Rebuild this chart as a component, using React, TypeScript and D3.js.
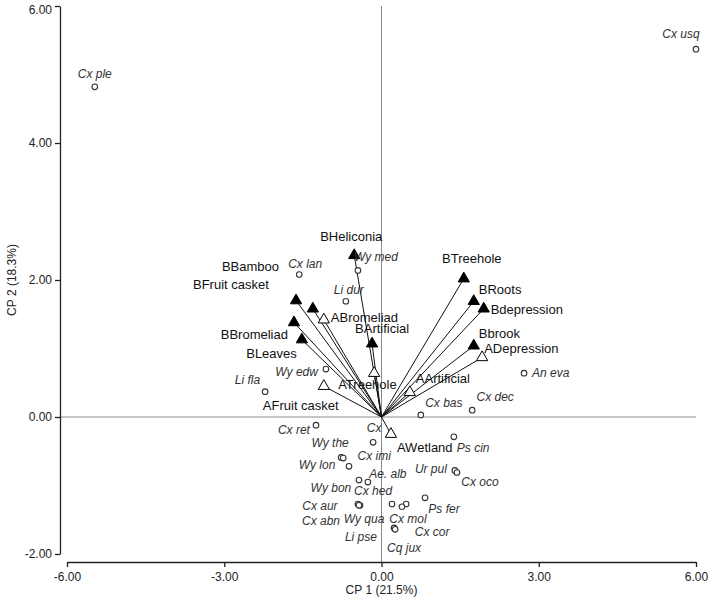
import * as d3 from 'd3';
import { type FC, useEffect, useRef } from 'react';

// Species scores (CP1, CP2)
const speciesNames = [
  'Cx ple', 'Cx usq', 'Cx lan', 'Wy med', 'Li dur', 'Wy edw', 'Li fla', 'An eva',
  'Cx bas', 'Cx dec', 'Cx ret', 'Cx', 'Wy the', 'Cx imi', 'Wy lon', 'Ae. alb',
  'Wy bon', 'Cx hed', 'Cx aur', 'Cx abn', 'Wy qua', 'Li pse', 'Cx mol', 'Cx cor',
  'Cq jux', 'Ps fer', 'Ur pul', 'Cx oco', 'Ps cin',
];
const speciesCP1 = [
  -5.47, 6.0, -1.57, -0.45, -0.68, -1.06, -2.22, 2.72,
  0.75, 1.73, -1.25, -0.16, -0.77, -0.73, -0.62, -0.26,
  -0.43, 0.47, -0.45, -0.41, 0.2, -0.43, 0.39, 0.24,
  0.26, 0.83, 1.4, 1.44, 1.38,
];
const speciesCP2 = [
  4.82, 5.37, 2.08, 2.14, 1.69, 0.7, 0.37, 0.64,
  0.03, 0.1, -0.12, -0.37, -0.59, -0.6, -0.72, -0.95,
  -0.92, -1.27, -1.27, -1.29, -1.27, -1.29, -1.31, -1.62,
  -1.64, -1.18, -0.78, -0.81, -0.29,
];

// Habitat vectors: B* filled, A* open
const habitatNames = [
  'BHeliconia', 'BBamboo', 'BFruit casket', 'BBromeliad', 'BLeaves', 'BArtificial',
  'BTreehole', 'BRoots', 'Bdepression', 'Bbrook',
  'ABromeliad', 'ATreehole', 'AFruit casket', 'AArtificial', 'ADepression', 'AWetland',
];
const habitatCP1 = [-0.52, -1.63, -1.31, -1.67, -1.52, -0.18, 1.57, 1.76, 1.95, 1.76, -1.1, -0.14, -1.1, 0.54, 1.92, 0.18];
const habitatCP2 = [2.36, 1.7, 1.58, 1.38, 1.13, 1.07, 2.02, 1.69, 1.58, 1.04, 1.42, 0.64, 0.45, 0.36, 0.87, -0.25];

const xTicks = [-6, -3, 0, 3, 6];
const yTicks = [-2, 0, 2, 4, 6];

// label placement (px offsets from the mark)
const speciesLabelPos: Record<string, [number, number, string]> = {
  'Cx ple': [0, -13, 'middle'], 'Cx usq': [-15, -15, 'middle'], 'Cx lan': [6, -11, 'middle'],
  'Wy med': [18, -14, 'middle'], 'Li dur': [3, -11, 'middle'], 'Wy edw': [-8, 3, 'end'],
  'Li fla': [-5, -12, 'end'], 'An eva': [8, 0, 'start'], 'Cx bas': [23, -12, 'middle'],
  'Cx dec': [23, -13, 'middle'], 'Cx ret': [-6, 5, 'end'], Cx: [1, -15, 'middle'],
  'Wy the': [-11, -15, 'middle'], 'Cx imi': [31, -2, 'middle'], 'Wy lon': [-32, -2, 'middle'],
  'Ae. alb': [20, -8, 'middle'], 'Wy bon': [-28, 8, 'middle'], 'Cx hed': [-33, -13, 'middle'],
  'Cx aur': [-38, 2, 'middle'], 'Cx abn': [-39, 15, 'middle'], 'Wy qua': [-28, 15, 'middle'],
  'Li pse': [2, 31, 'middle'], 'Cx mol': [6, 12, 'middle'], 'Cx cor': [38, 4, 'middle'],
  'Cq jux': [9, 18, 'middle'], 'Ps fer': [19, 11, 'middle'], 'Ur pul': [-24, -2, 'middle'],
  'Cx oco': [23, 9, 'middle'], 'Ps cin': [3, 11, 'start'],
};
const habitatLabelPos: Record<string, [number, number, string]> = {
  BHeliconia: [-3, -19, 'middle'], BBamboo: [-17, -34, 'end'], 'BFruit casket': [-44, -24, 'end'],
  BBromeliad: [-6, 12, 'end'], BLeaves: [-5, 14, 'end'], BArtificial: [-17, -15, 'start'],
  BTreehole: [8, -20, 'middle'], BRoots: [5, -12, 'start'], Bdepression: [7, 1, 'start'],
  Bbrook: [5, -12, 'start'], ABromeliad: [7, -2, 'start'], ATreehole: [-36, 11, 'start'],
  'AFruit casket': [-61, 19, 'start'], AArtificial: [6, -14, 'start'], ADepression: [2, -9, 'start'],
  AWetland: [6, 13, 'start'],
};

const FONT = '"Liberation Sans", Arial, sans-serif';

const App: FC = () => {
  const svgRef = useRef<SVGSVGElement>(null);

  useEffect(() => {
    if (!svgRef.current) return;
    const svg = d3.select(svgRef.current);
    svg.selectAll('*').remove();

    const x = d3.scaleLinear().domain([-6, 6]).range([67, 696]);
    const y = d3.scaleLinear().domain([-2, 6]).range([554, 6]);
    const fmt = (d: d3.NumberValue) => (+d).toFixed(2);

    // zero reference lines
    svg.append('line')
      .attr('x1', x(0)).attr('x2', x(0)).attr('y1', y(6)).attr('y2', 562)
      .attr('stroke', '#8a8a8a').attr('stroke-width', 1);
    svg.append('line')
      .attr('x1', 60).attr('x2', x(6)).attr('y1', y(0)).attr('y2', y(0))
      .attr('stroke', '#8a8a8a').attr('stroke-width', 1);

    // axes
    const xAxis = svg.append('g')
      .attr('transform', 'translate(0,562)')
      .call(d3.axisBottom(x).tickValues(xTicks).tickSize(5).tickSizeOuter(0).tickFormat(fmt));
    const yAxis = svg.append('g')
      .attr('transform', 'translate(60,0)')
      .call(d3.axisLeft(y).tickValues(yTicks).tickSize(5).tickSizeOuter(0).tickFormat(fmt));
    [xAxis, yAxis].forEach((a) => {
      a.selectAll('path, line').attr('stroke', '#222').attr('stroke-width', 1.3);
      a.selectAll('text').attr('fill', '#222').attr('font-size', '12px').attr('font-family', FONT);
    });
    xAxis.selectAll('text').attr('dy', '0.95em');
    yAxis.selectAll('.tick').filter((d) => d === 6).select('text').attr('dy', '0.6em');

    svg.append('text')
      .attr('x', x(0)).attr('y', 594)
      .attr('text-anchor', 'middle').attr('font-size', '12px').attr('font-family', FONT).attr('fill', '#222')
      .text('CP 1 (21.5%)');
    svg.append('text')
      .attr('transform', `translate(16,${y(2)}) rotate(-90)`)
      .attr('text-anchor', 'middle').attr('font-size', '12px').attr('font-family', FONT).attr('fill', '#222')
      .text('CP 2 (18.3%)');

    const habitats = habitatNames.map((n, i) => ({ n, cx: habitatCP1[i], cy: habitatCP2[i], filled: n.startsWith('B') }));
    const species = speciesNames.map((n, i) => ({ n, cx: speciesCP1[i], cy: speciesCP2[i] }));

    // vectors
    svg.append('g').selectAll('line')
      .data(habitats)
      .join('line')
      .attr('x1', x(0)).attr('y1', y(0))
      .attr('x2', (d) => x(d.cx)).attr('y2', (d) => y(d.cy))
      .attr('stroke', '#111').attr('stroke-width', 1);

    const tri = d3.symbol().type(d3.symbolTriangle).size(55);
    svg.append('g').selectAll('path')
      .data(habitats)
      .join('path')
      .attr('d', tri)
      .attr('transform', (d) => `translate(${x(d.cx)},${y(d.cy)})`)
      .attr('fill', (d) => (d.filled ? '#000' : '#fff'))
      .attr('stroke', '#000').attr('stroke-width', 1);

    // species points
    svg.append('g').selectAll('circle')
      .data(species)
      .join('circle')
      .attr('cx', (d) => x(d.cx)).attr('cy', (d) => y(d.cy))
      .attr('r', 2.8)
      .attr('fill', '#fff').attr('stroke', '#333').attr('stroke-width', 1.1);

    svg.append('g').selectAll('text')
      .data(species)
      .join('text')
      .attr('x', (d) => x(d.cx) + speciesLabelPos[d.n][0])
      .attr('y', (d) => y(d.cy) + speciesLabelPos[d.n][1])
      .attr('dy', '0.35em')
      .attr('text-anchor', (d) => speciesLabelPos[d.n][2])
      .attr('font-size', '12px').attr('font-style', 'italic').attr('font-family', FONT).attr('fill', '#333')
      .text((d) => d.n);

    svg.append('g').selectAll('text')
      .data(habitats)
      .join('text')
      .attr('x', (d) => x(d.cx) + habitatLabelPos[d.n][0])
      .attr('y', (d) => y(d.cy) + habitatLabelPos[d.n][1])
      .attr('dy', '0.35em')
      .attr('text-anchor', (d) => habitatLabelPos[d.n][2])
      .attr('font-size', '13px').attr('font-family', FONT).attr('fill', '#111')
      .text((d) => d.n);
  }, []);

  return (
    <svg
      ref={svgRef}
      width={709}
      height={601}
      style={{ position: 'absolute', left: 0, top: 0, background: '#fff' }}
    />
  );
};

export default App;
